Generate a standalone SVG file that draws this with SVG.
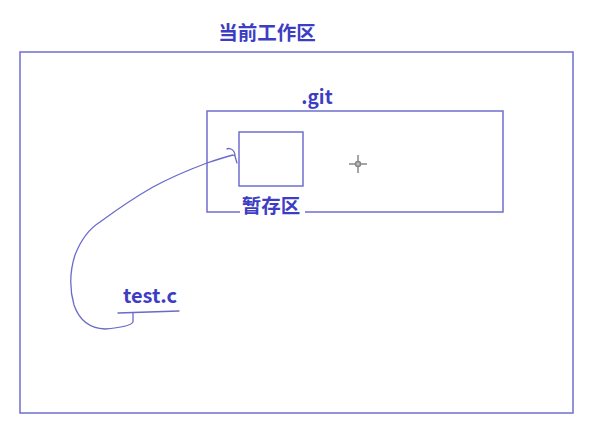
<svg xmlns="http://www.w3.org/2000/svg" width="594" height="432" viewBox="0 0 594 432">
<style>
.box{fill:none;stroke:#6f6fd0;stroke-width:1.5}
.lbl{font-family:"Noto Sans CJK SC","Noto Sans",sans-serif;font-weight:bold;fill:#3d3dc4}
.ink{fill:none;stroke:#6a6acc;stroke-width:1.3;stroke-linecap:round;stroke-linejoin:round}
</style>
<rect width="594" height="432" fill="#ffffff"/>
<g id="workspace">
<rect class="box" x="20" y="52" width="553" height="361"/>
<text class="lbl" x="267" y="40" font-size="19.5" text-anchor="middle">当前工作区</text>
</g>
<g id="git">
<path class="box" d="M240 212 H207 V111 H503 V212 H305"/>
<text class="lbl" x="317" y="104" font-size="19" text-anchor="middle">.git</text>
</g>
<g id="stage">
<rect class="box" x="239" y="132" width="64" height="54"/>
<text class="lbl" x="271" y="213" font-size="19.5" text-anchor="middle">暂存区</text>
</g>
<g id="testc">
<text class="lbl" x="150" y="303" font-size="20" text-anchor="middle" font-family="'Noto Sans',sans-serif">test.c</text>
<path class="ink" d="M118 313 L179 311"/>
</g>
<g id="connectors">
<path class="ink" d="M133 313 L133 322 Q130 327 105 329 Q82 328 74 305 Q67 280 75 255 Q84 232 100 222 Q130 200 153 187 Q175 175 207 163 Q225 157 233 155 L235 156 Q235 151 231 149 Q228 148 227 149 M235 156 Q236 160 237 163"/>
</g>
<g id="cursor" stroke="#888" stroke-width="1.5" fill="none">
<path d="M358 155 V173 M349 164 H367"/>
<circle cx="358" cy="164" r="2.5" fill="#bbb"/>
</g>
</svg>
